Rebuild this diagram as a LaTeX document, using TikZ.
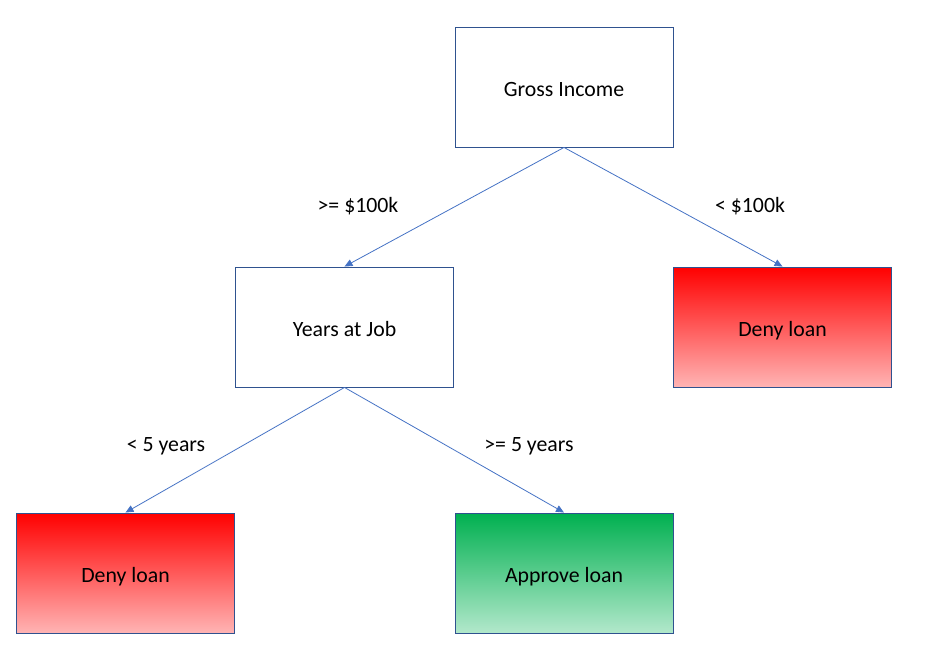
\documentclass[tikz,border=0pt]{standalone}
\usepackage{fontspec}
\setmainfont{Carlito}
\usetikzlibrary{arrows.meta}
\definecolor{boxline}{HTML}{2F528F}
\definecolor{edgeblue}{HTML}{4472C4}
\definecolor{redtop}{HTML}{FF0000}
\definecolor{redbot}{HTML}{FFB4B4}
\definecolor{greentop}{HTML}{00B050}
\definecolor{greenbot}{HTML}{B2E8CB}
\tikzset{
  box/.style={draw=boxline, line width=0.9pt, minimum width=218pt, minimum height=120pt, inner sep=0pt, text height=23pt, text depth=4pt, font=\fontsize{21.8}{26}\selectfont},
  denybox/.style={box, top color=redtop, bottom color=redbot},
  approvebox/.style={box, top color=greentop, bottom color=greenbot},
  edge/.style={draw=edgeblue, line width=0.8pt, -{Triangle[length=8pt,width=7pt]}},
  lbl/.style={font=\fontsize{21.8}{26}\selectfont, inner sep=0pt}
}
\begin{document}
\begin{tikzpicture}[x=1pt,y=-1pt]
\useasboundingbox (0,0) rectangle (935,653);
\node[box, fill=white] (gross) at (564,87) {Gross Income};
\node[box, fill=white] (years) at (344.5,327) {Years at Job};
\node[denybox] (deny1) at (782.5,327) {Deny loan};
\node[denybox] (deny2) at (125.5,573) {Deny loan};
\node[approvebox] (approve) at (564,573) {Approve loan};
\draw[edge] (gross.south) -- (years.north);
\draw[edge] (gross.south) -- (deny1.north);
\draw[edge] (years.south) -- (deny2.north);
\draw[edge] (years.south) -- (approve.north);
\node[lbl] (l1) at (358,206.5) {>= \$100k};
\node[lbl] (l2) at (750,206.5) {< \$100k};
\node[lbl] (l3) at (166,446.5) {< 5 years};
\node[lbl] (l4) at (529,446.5) {>= 5 years};
\end{tikzpicture}
\end{document}
